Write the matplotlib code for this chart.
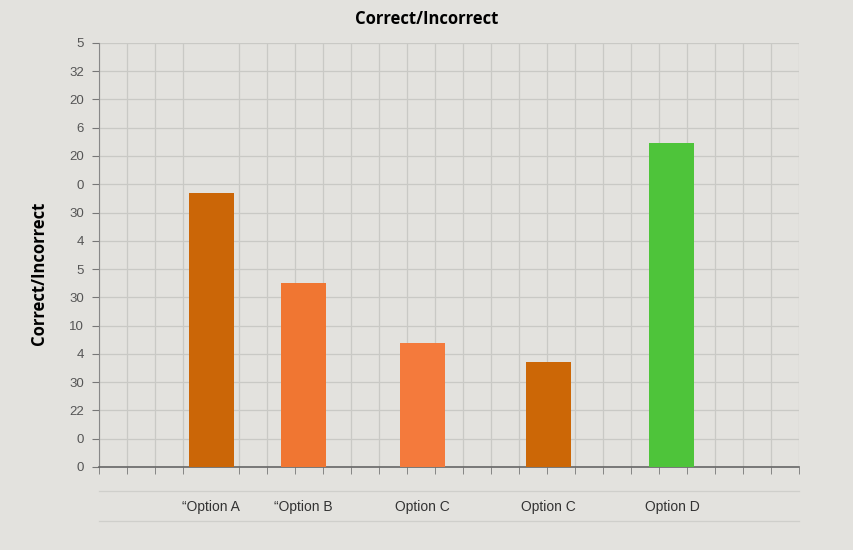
import matplotlib

matplotlib.use("Agg")
import matplotlib.pyplot as plt

# data
categories = ["\u201cOption A", "\u201cOption B", "Option C", "Option C", "Option D"]
values = [9.7, 6.5, 4.4, 3.7, 11.45]
bar_colors = ["#CB6607", "#F07632", "#F47A3C", "#CC6706", "#4EC43A"]
ytick_labels = ["0", "0", "22", "30", "4", "10", "30", "5", "4", "30", "0", "20", "6", "20", "32", "5"]

# layout (grid units, one cell per column)
bar_pos = [4.0, 7.3, 11.55, 16.05, 20.45]
bar_width = 1.6
n_cols = 25

bg = "#E3E2DE"
grid_c = "#C9C9C5"

fig = plt.figure(figsize=(8.54, 5.5), dpi=100, facecolor=bg)
ax = fig.add_axes([0.116, 0.151, 0.820, 0.771], facecolor=bg)

ax.bar(bar_pos, values, width=bar_width, color=bar_colors, zorder=3)

ax.set_xlim(0, n_cols)
ax.set_ylim(0, len(ytick_labels) - 1)

ax.set_yticks(range(len(ytick_labels)))
ax.set_yticklabels(ytick_labels, fontsize=9.5, color="#555555", family="Liberation Sans")
ax.set_xticks(range(n_cols + 1), minor=True)
ax.set_xticks(bar_pos)
ax.set_xticklabels(categories, fontsize=10, color="#333333", family="Liberation Sans")
ax.tick_params(axis="x", which="major", length=0, pad=24)
ax.tick_params(axis="x", which="minor", length=5, color="#777777", direction="out")
ax.tick_params(axis="y", length=5, color="#777777", pad=6)

ax.grid(True, which="minor", axis="x", color=grid_c, lw=0.9, zorder=0)
ax.grid(True, which="major", axis="y", color=grid_c, lw=0.9, zorder=0)

for side in ["top", "right"]:
    ax.spines[side].set_visible(False)
ax.spines["left"].set_color("#888888")
ax.spines["bottom"].set_color("#666666")
ax.spines["bottom"].set_linewidth(1.2)

# faint rules around the category labels
for y in (-0.85, -1.9):
    ax.axhline(y, xmin=0.0, xmax=1.0, color="#CFCFCB", lw=0.9, clip_on=False)

fig.text(0.5, 0.965, "Correct/Incorrect", ha="center", va="center",
         fontsize=12, fontweight="bold", family="Open Sans")
fig.text(0.046, 0.503, "Correct/Incorrect", ha="center", va="center", rotation=90,
         fontsize=12, fontweight="bold", family="Open Sans")

fig.savefig("out.png", dpi=100, facecolor=bg)
